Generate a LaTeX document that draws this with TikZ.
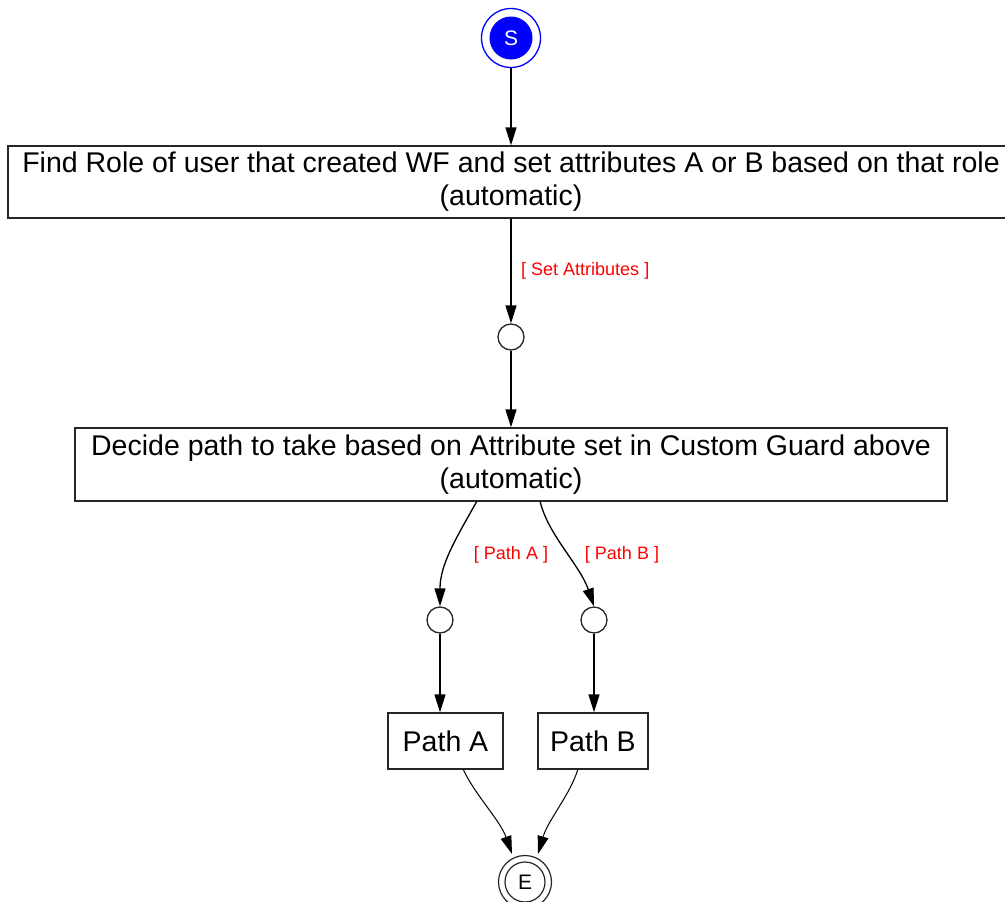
\documentclass[tikz,border=0pt]{standalone}
\usepackage{fontspec}
\setmainfont{Liberation Sans}
\usetikzlibrary{arrows.meta}
\definecolor{sblue}{RGB}{0,0,255}
\definecolor{lblred}{RGB}{255,0,0}
\tikzset{
  x=1pt, y=-1pt,
  box/.style={draw=black!85, line width=1.3pt, fill=white, inner sep=0pt, align=center,
    font=\fontsize{28.5}{33}\selectfont},
  place/.style={draw=black!85, line width=1.3pt, circle, minimum size=26pt, inner sep=0pt},
  flow/.style={draw=black, line width=1.3pt, -{Triangle[length=18pt,width=11pt]}},
  lbl/.style={text=lblred, font=\fontsize{18}{20}\selectfont, inner sep=0pt}
}
\begin{document}
\begin{tikzpicture}
\useasboundingbox (0,0) rectangle (1005,902);
\clip (0,0) rectangle (1005,902);
% start
\node[circle, fill=sblue, minimum size=43pt, inner sep=0pt, text=white,
      font=\fontsize{21}{24}\selectfont] (s) at (511,38) {S};
\draw[sblue, line width=1.3pt] (s.center) circle[radius=29.5pt];
\coordinate (sb) at (511,68);
% boxes
\node[box, minimum width=1006pt, minimum height=72pt] (b1) at (511,182)
  {Find Role of user that created WF and set attributes A or B based on that role\\(automatic)};
\node[place] (c1) at (511,337) {};
\node[box, minimum width=872pt, minimum height=73pt] (b2) at (511,464.5)
  {Decide path to take based on Attribute set in Custom Guard above\\(automatic)};
\node[place] (c2) at (440,620) {};
\node[place] (c3) at (594,620) {};
\node[box, minimum width=115pt, minimum height=56pt] (pa) at (445.5,741) {Path A};
\node[box, minimum width=110pt, minimum height=56pt] (pb) at (593,741) {Path B};
% end
\node[circle, draw=black!85, line width=1.2pt, minimum size=40pt, inner sep=0pt,
      font=\fontsize{21}{24}\selectfont] (e) at (525,882) {E};
\draw[black!85, line width=1.2pt] (e.center) circle[radius=26.5pt];
\coordinate (ein1) at (512,854);
\coordinate (ein2) at (538,854);
% connectors
\draw[flow] (sb) -- (s |- b1.north);
\draw[flow] (b1.south -| c1) -- (c1.north);
\node[lbl, anchor=west] (l1) at (521,271) {[ Set Attributes ]};
\draw[flow] (c1.south) -- (c1 |- b2.north);
\draw[flow] (477,501) .. controls (455,540) and (440,565) .. (c2.north);
\node[lbl] (l2) at (511,555) {[ Path A ]};
\draw[flow] (540,501) .. controls (548,535) and (580,565) .. (c3.north);
\node[lbl] (l3) at (622,555) {[ Path B ]};
\draw[flow] (c2.south) -- (c2 |- pa.north);
\draw[flow] (c3.south) -- (c3 |- pb.north);
\draw[line width=1pt, -{Triangle[length=18pt,width=11pt]}] (463,769) .. controls (475,795) and (500,820) .. (ein1);
\draw[line width=1pt, -{Triangle[length=18pt,width=11pt]}] (578,769) .. controls (570,795) and (548,820) .. (ein2);
\end{tikzpicture}
\end{document}
